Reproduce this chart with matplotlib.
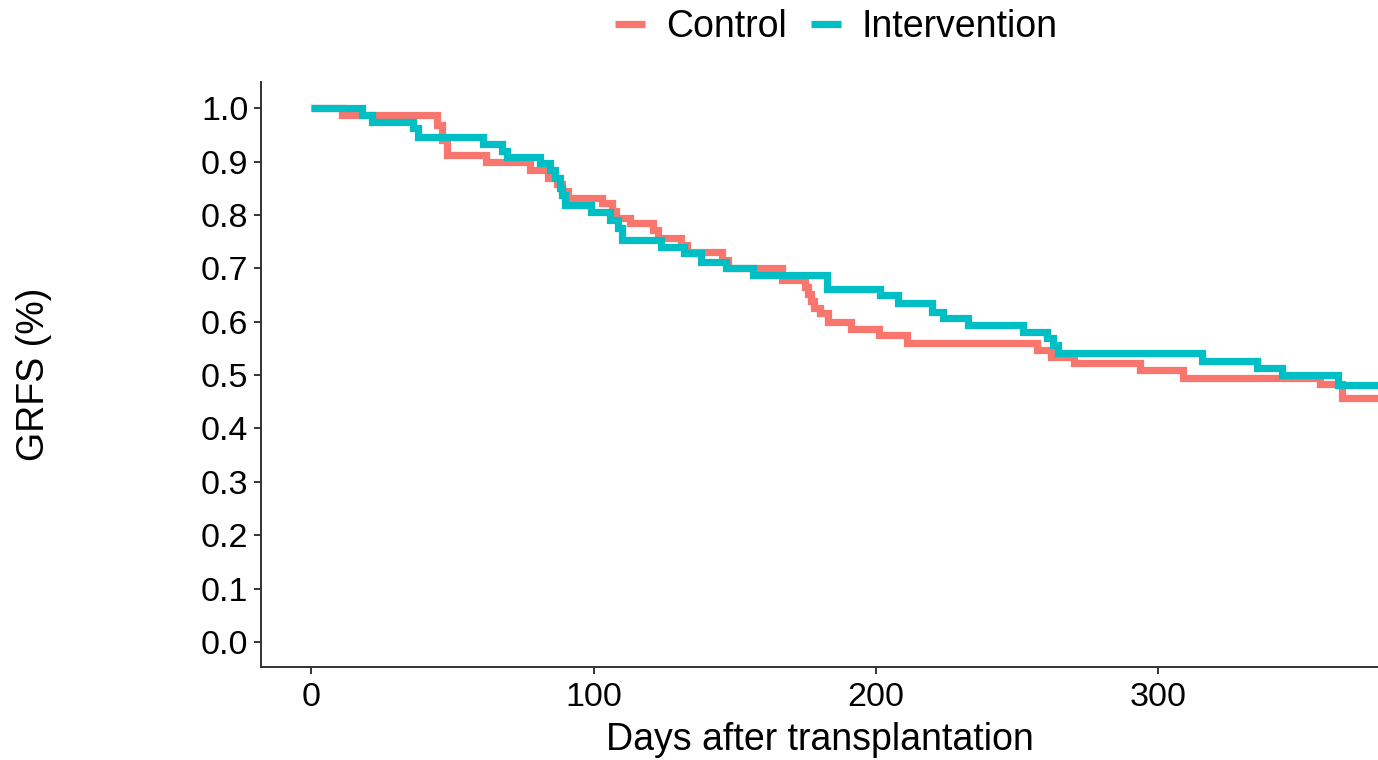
import matplotlib.pyplot as plt
from matplotlib.lines import Line2D

plt.rcParams['font.family'] = ['Liberation Sans', 'DejaVu Sans']

# Kaplan-Meier style step data: event days and survival after each step
control_days = [0, 11, 44.6, 46.5, 48, 62, 77.5, 84, 87, 89, 91, 103, 106.5, 108,
                113, 121, 123, 131, 133, 145.5, 147.5, 166.7, 175, 176, 177, 178,
                180, 183, 191, 201, 211, 257, 262, 270, 293.5, 308.7, 357, 365, 380]
control_surv = [1.0, 0.987, 0.968, 0.94, 0.912, 0.899, 0.884, 0.87, 0.857, 0.844,
                0.831, 0.822, 0.808, 0.794, 0.785, 0.771, 0.757, 0.744, 0.73, 0.715,
                0.70, 0.678, 0.665, 0.652, 0.638, 0.625, 0.616, 0.60, 0.586, 0.575,
                0.56, 0.547, 0.534, 0.522, 0.509, 0.494, 0.483, 0.457, 0.457]

interv_days = [0, 18, 21.5, 36, 38, 61, 67.5, 69.5, 81, 84.5, 86.5, 88, 89, 90, 99,
               106, 108.5, 110, 124, 132, 138, 147, 156.5, 182.6, 201.4, 207.8, 220,
               223.7, 232.6, 252, 260.5, 262.5, 264.5, 315.4, 335, 343.7, 363.5, 380]
interv_surv = [1.0, 0.987, 0.974, 0.962, 0.946, 0.933, 0.92, 0.908, 0.897, 0.884,
               0.87, 0.85, 0.837, 0.818, 0.805, 0.79, 0.775, 0.753, 0.74, 0.728,
               0.712, 0.70, 0.687, 0.662, 0.65, 0.635, 0.618, 0.607, 0.594, 0.58,
               0.569, 0.556, 0.541, 0.526, 0.513, 0.50, 0.481, 0.481]

groups = ['Control', 'Intervention']
colors = ['#F8766D', '#00BFC4']
x_ticks = [0, 100, 200, 300]
y_ticks = [i / 10 for i in range(11)]

fig = plt.figure(figsize=(13.78, 7.6), dpi=100)
ax = fig.add_axes([261 / 1378, 1 - 667 / 760, 1 - 261 / 1378, 585 / 760])

ax.step(control_days, control_surv, where='post', color=colors[0], lw=5.2,
        solid_joinstyle='miter', solid_capstyle='butt')
ax.step(interv_days, interv_surv, where='post', color=colors[1], lw=5.2,
        solid_joinstyle='miter', solid_capstyle='butt')

ax.set_xlim(-17.7, 377.7)
ax.set_ylim(-0.047, 1.049)
ax.set_xticks(x_ticks)
ax.set_yticks(y_ticks)
ax.set_yticklabels([f'{v:.1f}' for v in y_ticks])

for side in ['top', 'right']:
    ax.spines[side].set_visible(False)
for side in ['left', 'bottom']:
    ax.spines[side].set_color('#333333')
    ax.spines[side].set_linewidth(1.4)
ax.tick_params(axis='both', length=5, width=1.4, color='#333333',
               labelsize=24.5, labelcolor='black')
ax.tick_params(axis='x', pad=6)
ax.tick_params(axis='y', pad=4)

ax.set_xlabel('Days after transplantation', fontsize=27)
ax.xaxis.set_label_coords(0.5, -0.094)
ax.set_ylabel('GRFS (%)', fontsize=27)
ax.yaxis.set_label_coords(-0.187, 0.5)

handles = [Line2D([], [], color=c, lw=5.2, solid_capstyle='butt') for c in colors]
fig.legend(handles, groups, loc='center', bbox_to_anchor=(0.607, 1 - 27 / 760),
           ncol=2, frameon=False, fontsize=27, handlelength=0.8,
           handletextpad=0.55, columnspacing=0.65)

fig.savefig('out.png', dpi=100)
